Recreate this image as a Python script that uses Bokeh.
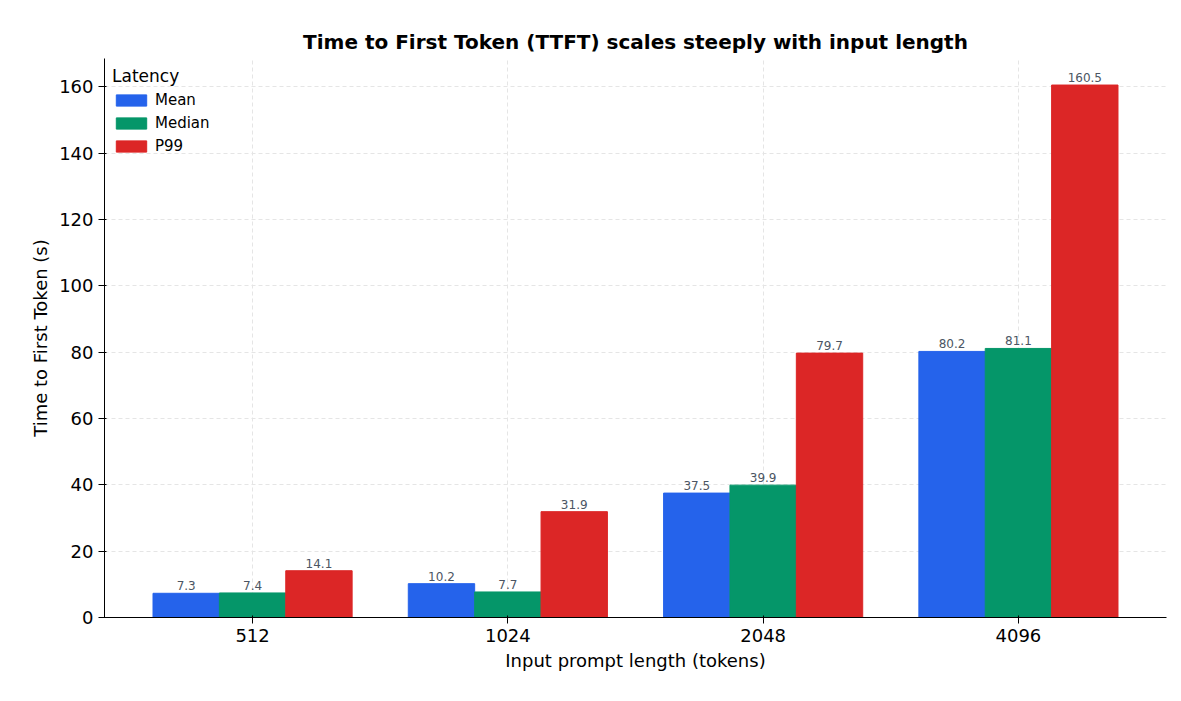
from bokeh.plotting import figure
from bokeh.models import ColumnDataSource, FixedTicker, LabelSet, Legend, LegendItem
from bokeh.core.properties import value
from bokeh.embed import file_html
from bokeh.resources import INLINE

categories = ["512", "1024", "2048", "4096"]
mean = [7.3, 10.2, 37.5, 80.2]
median = [7.4, 7.7, 39.9, 81.1]
p99 = [14.1, 31.9, 79.7, 160.5]
series = [("Mean", mean, "#2563eb"), ("Median", median, "#059669"), ("P99", p99, "#dc2626")]

W, H = 1181, 701
p = figure(width=W, height=H, x_range=(-0.58, 3.58), y_range=(0, 168.5),
           output_backend="svg", toolbar_location=None,
           min_border_left=104, min_border_right=15, min_border_top=58, min_border_bottom=84)
p.title.text = "Time to First Token (TTFT) scales steeply with input length"
p.title.align = "center"
p.title.text_font = "DejaVu Sans"
p.title.text_font_size = "20px"
p.title.text_font_style = "bold"
p.title.text_color = "black"
p.outline_line_color = None

bw = 0.26
items = []
for i, (name, vals, col) in enumerate(series):
    xs = [j + (i - 1) * bw for j in range(len(categories))]
    src = ColumnDataSource(dict(x=xs, top=vals, lab=[f"{v:.1f}" for v in vals]))
    r = p.vbar(x="x", top="top", width=bw, color=col, source=src)
    items.append(LegendItem(label=name, renderers=[r]))
    p.add_layout(LabelSet(x="x", y="top", text="lab", source=src, text_align="center",
                          y_offset=3, text_font_size="12px", text_color="#4b5563",
                          text_font=value("DejaVu Sans")))

leg = Legend(items=items, location="top_left", title="Latency",
             title_text_font_size="17px", title_text_font="DejaVu Sans",
             title_text_font_style="normal", title_text_color="black",
             label_text_font_size="15px", label_text_font="DejaVu Sans",
             label_text_color="black",
             border_line_color=None, background_fill_alpha=0.0,
             glyph_width=38, glyph_height=14, spacing=5, margin=8, padding=10)
p.add_layout(leg)

p.xaxis.ticker = FixedTicker(ticks=[0, 1, 2, 3])
p.xaxis.major_label_overrides = {i: c for i, c in enumerate(categories)}
p.yaxis.ticker = FixedTicker(ticks=list(range(0, 170, 20)))
for ax in (p.xaxis, p.yaxis):
    ax.major_label_text_font_size = "18px"
    ax.major_label_text_font = "DejaVu Sans"
    ax.axis_label_text_font_size = "18px"
    ax.axis_label_text_font = "DejaVu Sans"
    ax.axis_label_text_font_style = "normal"
    ax.axis_label_text_color = "black"
    ax.minor_tick_line_color = None
    ax.major_label_text_color = "black"
p.xaxis.axis_label = "Input prompt length (tokens)"
p.yaxis.axis_label = "Time to First Token (s)"
p.xgrid.grid_line_dash = "4 3"
p.ygrid.grid_line_dash = "4 3"
p.xgrid.grid_line_color = "#e5e5e5"
p.ygrid.grid_line_color = "#e5e5e5"

open("out.html", "w").write(file_html(p, INLINE))
